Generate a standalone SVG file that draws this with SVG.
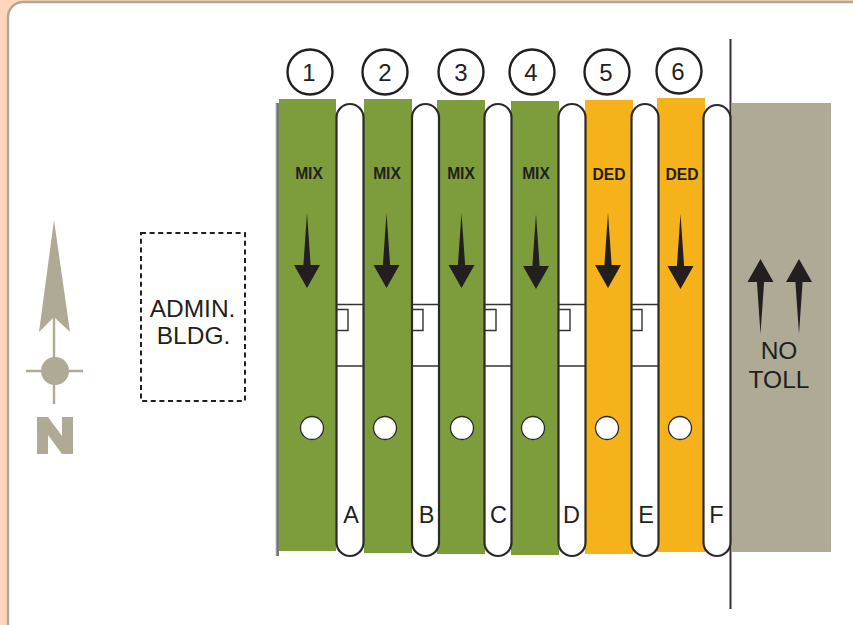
<svg xmlns="http://www.w3.org/2000/svg" width="853" height="625" viewBox="0 0 853 625">
<style>
text{font-family:"Liberation Sans",Arial,sans-serif;fill:#231f20}
.num{font-size:24px;text-anchor:middle}
.tag{font-size:15.6px;font-weight:bold;text-anchor:middle}
.lab{font-size:23.5px;text-anchor:middle}
.big{font-size:24.5px;text-anchor:middle}
.isl{fill:#fff;stroke:#2b2a2a;stroke-width:2.2}
.thin{fill:none;stroke:#333;stroke-width:1.4}
.hole{fill:#fff;stroke:#2b2a2a;stroke-width:1.3}
.circ{fill:#fff;stroke:#231f20;stroke-width:2.4}
.mix{fill:#7d9c3b}.ded{fill:#f5b21a}
.tan{fill:#aeaa95}
</style>
<defs>
<path id="dn" d="M0 0L3.600 52H13L0 75L-13 52H-3.600Z" fill="#231f20"/>
<path id="up" d="M0 0L13 23H3.600L0 75L-3.600 23H-13Z" fill="#231f20"/>
</defs>
<rect width="853" height="625" fill="#fdd6bd"/>
<rect x="8" y="2" width="860" height="640" rx="15" fill="#fff" stroke="#aeaa95" stroke-width="2.400"/>
<g id="north-arrow">
<path class="tan" d="M54 220L70 332L54 317L39 332Z"/>
<path d="M54 317V404M26 371H83" stroke="#aeaa95" stroke-width="2.400" fill="none"/>
<circle class="tan" cx="55" cy="371" r="14"/>
<path class="tan" d="M37 417H48L62 436V417H73V454H62L48 435V454H37Z"/>
</g>
<g id="admin-bldg">
<rect x="141" y="233" width="104" height="168" fill="none" stroke="#231f20" stroke-width="2" stroke-dasharray="5 3.600"/>
<text class="big" x="192.500" y="317">ADMIN.</text>
<text class="big" x="193.500" y="344">BLDG.</text>
</g>
<g id="connectors">
<path d="M276.500 103V556" stroke="#999" stroke-width="1.500" fill="none"/>
<path d="M278 103V556" stroke="#333" stroke-width="1.300" fill="none"/>
<path d="M730.500 39V609" stroke="#333" stroke-width="2" fill="none"/>
</g>
<g id="no-toll">
<rect class="tan" x="731.500" y="103" width="99.500" height="449"/>
<use href="#up" x="760.500" y="259"/>
<use href="#up" x="799" y="259"/>
<text class="big" x="779" y="359">NO</text>
<text class="big" x="779" y="388">TOLL</text>
</g>
<g id="lane-1">
<rect class="mix" x="279" y="99" width="57" height="452"/>
<circle class="circ" cx="310" cy="72" r="22.500"/><text class="num" x="309" y="81">1</text>
<text class="tag" x="309" y="178.500">MIX</text>
<use href="#dn" x="307" y="213"/>
<circle class="hole" cx="312" cy="428" r="11.500"/>
</g>
<g id="lane-2">
<rect class="mix" x="364" y="99" width="48" height="454"/>
<circle class="circ" cx="385" cy="72" r="22.500"/><text class="num" x="385" y="81">2</text>
<text class="tag" x="387" y="178.500">MIX</text>
<use href="#dn" x="386.500" y="213"/>
<circle class="hole" cx="385" cy="428" r="11.500"/>
</g>
<g id="lane-3">
<rect class="mix" x="437" y="100" width="48" height="454"/>
<circle class="circ" cx="461" cy="72" r="22.500"/><text class="num" x="461" y="81">3</text>
<text class="tag" x="461" y="178.500">MIX</text>
<use href="#dn" x="461.500" y="213"/>
<circle class="hole" cx="462" cy="428" r="11.500"/>
</g>
<g id="lane-4">
<rect class="mix" x="511" y="101" width="48" height="454"/>
<circle class="circ" cx="532" cy="72" r="22.500"/><text class="num" x="531" y="81">4</text>
<text class="tag" x="536" y="178.500">MIX</text>
<use href="#dn" x="536" y="214"/>
<circle class="hole" cx="533" cy="428" r="11.500"/>
</g>
<g id="lane-5">
<rect class="ded" x="585" y="100" width="48" height="454"/>
<circle class="circ" cx="607" cy="72" r="22.500"/><text class="num" x="606" y="81">5</text>
<text class="tag" x="609" y="179.500">DED</text>
<use href="#dn" x="608" y="213"/>
<circle class="hole" cx="607" cy="428" r="11.500"/>
</g>
<g id="lane-6">
<rect class="ded" x="657" y="98" width="48" height="454"/>
<circle class="circ" cx="679" cy="71" r="22.500"/><text class="num" x="678" y="80">6</text>
<text class="tag" x="682" y="179.500">DED</text>
<use href="#dn" x="680.500" y="214"/>
<circle class="hole" cx="680" cy="428" r="11.500"/>
</g>
<g id="island-A">
<rect class="isl" x="336.500" y="104" width="27" height="452" rx="13.500"/>
<path class="thin" d="M337 304.500H363M337 366H363M337 309.500H348V330.500H337"/>
<text class="lab" x="351" y="523">A</text>
</g>
<g id="island-B">
<rect class="isl" x="412" y="104" width="27" height="452" rx="13.500"/>
<path class="thin" d="M412 304.500H438M412 366H438M412 309.500H423V330.500H412"/>
<text class="lab" x="426.500" y="523">B</text>
</g>
<g id="island-C">
<rect class="isl" x="484.500" y="104" width="27" height="452" rx="13.500"/>
<path class="thin" d="M485 304.500H511M485 366H511M485 309.500H496V330.500H485"/>
<text class="lab" x="498.500" y="523">C</text>
</g>
<g id="island-D">
<rect class="isl" x="558.500" y="104" width="27" height="452" rx="13.500"/>
<path class="thin" d="M559 304.500H585M559 366H585M559 309.500H570V330.500H559"/>
<text class="lab" x="571.500" y="523">D</text>
</g>
<g id="island-E">
<rect class="isl" x="631.500" y="104" width="27" height="452" rx="13.500"/>
<path class="thin" d="M632 304.500H658M632 366H658M632 309.500H642V330.500H632"/>
<text class="lab" x="646" y="523">E</text>
</g>
<g id="island-F">
<rect class="isl" x="703.500" y="105" width="27" height="451" rx="13.500"/>
<text class="lab" x="716.500" y="523">F</text>
</g>
</svg>
